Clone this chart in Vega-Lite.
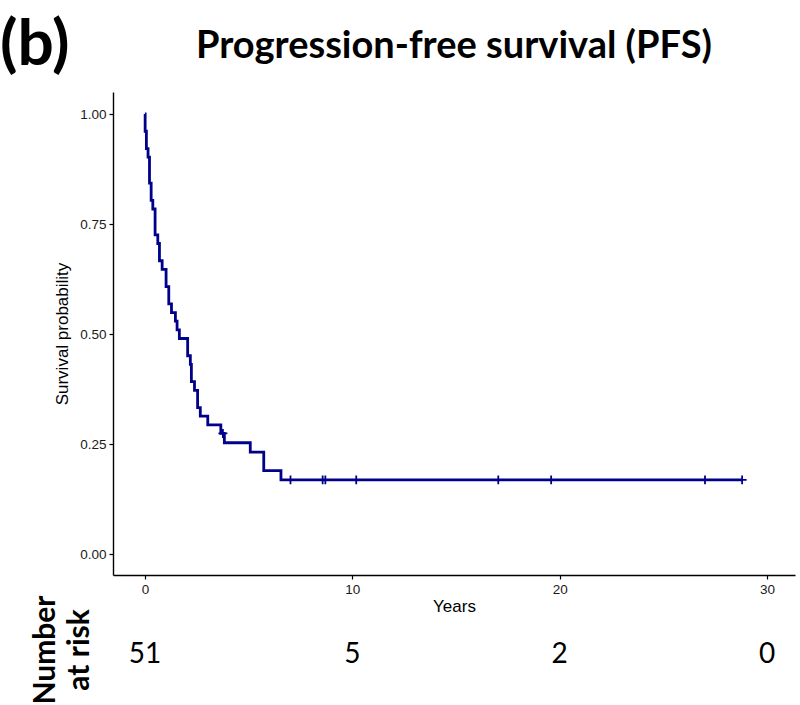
{
  "$schema": "https://vega.github.io/schema/vega-lite/v6.json",
  "background": "white",
  "padding": {"left": 0, "top": 14, "right": 5, "bottom": 0},
  "title": {"text": "(b)", "anchor": "start", "frame": "bounds", "fontSize": 64, "font": "Lato", "fontWeight": "bold", "color": "black", "offset": -50, "dx": -31},
  "datasets": {
    "km": [
      {"t": 0, "s": 1.0},
      {"t": 0.01, "s": 0.9608},
      {"t": 0.07, "s": 0.9216},
      {"t": 0.15, "s": 0.902},
      {"t": 0.22, "s": 0.8431},
      {"t": 0.3, "s": 0.8039},
      {"t": 0.38, "s": 0.7843},
      {"t": 0.49, "s": 0.7255},
      {"t": 0.62, "s": 0.7059},
      {"t": 0.7, "s": 0.6667},
      {"t": 0.83, "s": 0.6471},
      {"t": 1.02, "s": 0.6078},
      {"t": 1.15, "s": 0.5686},
      {"t": 1.28, "s": 0.549},
      {"t": 1.47, "s": 0.5294},
      {"t": 1.55, "s": 0.5098},
      {"t": 1.66, "s": 0.4902},
      {"t": 2.06, "s": 0.451},
      {"t": 2.19, "s": 0.4314},
      {"t": 2.24, "s": 0.3922},
      {"t": 2.39, "s": 0.3725},
      {"t": 2.54, "s": 0.3333},
      {"t": 2.67, "s": 0.3137},
      {"t": 3.03, "s": 0.2941},
      {"t": 3.66, "s": 0.2745},
      {"t": 3.83, "s": 0.2534},
      {"t": 5.08, "s": 0.2323},
      {"t": 5.73, "s": 0.1901},
      {"t": 6.56, "s": 0.169},
      {"t": 28.8, "s": 0.169}
    ],
    "censor": [
      {"t": 3.76, "s": 0.2745},
      {"t": 7.02, "s": 0.169},
      {"t": 8.57, "s": 0.169},
      {"t": 8.7, "s": 0.169},
      {"t": 10.19, "s": 0.169},
      {"t": 17.04, "s": 0.169},
      {"t": 19.59, "s": 0.169},
      {"t": 27.01, "s": 0.169},
      {"t": 28.8, "s": 0.169}
    ],
    "risk": [
      {"t": 0, "n": 51},
      {"t": 10, "n": 5},
      {"t": 20, "n": 2},
      {"t": 30, "n": 0}
    ]
  },
  "bounds": "flush",
  "spacing": 45,
  "vconcat": [
    {
      "width": 682,
      "height": 483,
      "title": {"text": "Progression-free survival (PFS)", "anchor": "middle", "fontSize": 38, "font": "Lato", "fontWeight": "bold", "color": "black", "offset": 26},
      "layer": [
        {
          "data": {"name": "km"},
          "mark": {"type": "line", "interpolate": "step-after", "color": "#00008B", "strokeWidth": 2.8},
          "encoding": {
            "x": {"field": "t", "type": "quantitative", "scale": {"domain": [-1.54, 31.35], "nice": false, "zero": false},
              "axis": {"title": "Years", "values": [0, 10, 20, 30], "format": "d"}},
            "y": {"field": "s", "type": "quantitative", "scale": {"domain": [-0.047, 1.05], "nice": false, "zero": false},
              "axis": {"title": "Survival probability", "values": [0, 0.25, 0.5, 0.75, 1], "format": ".2f"}}
          }
        },
        {
          "data": {"name": "censor"},
          "mark": {"type": "point", "shape": "M-1,0L1,0M0,-1L0,1", "filled": false, "stroke": "#00008B", "strokeWidth": 1.8, "size": 80, "opacity": 1},
          "encoding": {
            "x": {"field": "t", "type": "quantitative"},
            "y": {"field": "s", "type": "quantitative"}
          }
        }
      ]
    },
    {
      "width": 682,
      "height": 60,
      "data": {"name": "risk"},
      "title": {"text": ["Number", "at risk"], "orient": "left", "anchor": "middle", "fontSize": 30, "font": "Lato", "fontWeight": "bold", "color": "black", "lineHeight": 34, "offset": 18},
      "mark": {"type": "text", "fontSize": 28, "font": "Lato", "color": "black", "baseline": "middle", "align": "center", "dy": 5},
      "encoding": {
        "x": {"field": "t", "type": "quantitative", "scale": {"domain": [-1.54, 31.35], "nice": false, "zero": false}, "axis": null},
        "text": {"field": "n", "type": "quantitative"}
      }
    }
  ],
  "resolve": {"scale": {"x": "independent"}},
  "config": {
    "view": {"stroke": null},
    "axis": {
      "grid": false,
      "domainColor": "black",
      "domainWidth": 1.4,
      "tickColor": "black",
      "tickWidth": 1.2,
      "tickSize": 4,
      "labelFont": "Liberation Sans",
      "labelFontSize": 13.5,
      "labelColor": "#1a1a1a",
      "labelPadding": 3,
      "titleFont": "Liberation Sans",
      "titleFontSize": 17,
      "titleFontWeight": "normal",
      "titleColor": "black"
    },
    "axisY": {"titlePadding": 8},
    "axisX": {"titlePadding": 3}
  }
}
